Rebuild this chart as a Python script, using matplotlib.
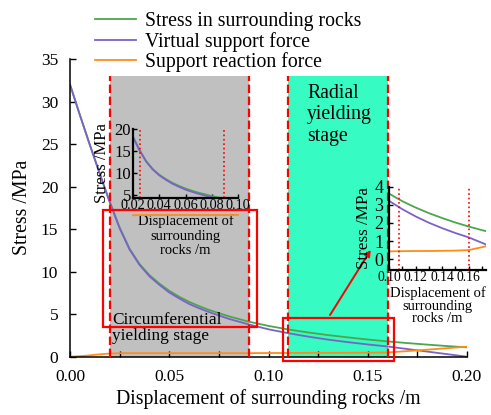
import numpy as np
import matplotlib
matplotlib.use("Agg")
import matplotlib.pyplot as plt
from matplotlib.patches import Rectangle
from matplotlib.ticker import MultipleLocator, FormatStrFormatter

plt.rcParams['font.family'] = ['Liberation Serif', 'DejaVu Serif']

# Displacement of surrounding rocks (m)
disp = [0.000, 0.005, 0.010, 0.015, 0.020, 0.025, 0.030, 0.035, 0.040, 0.045,
        0.050, 0.055, 0.060, 0.065, 0.070, 0.080, 0.090, 0.100, 0.110, 0.120,
        0.130, 0.140, 0.150, 0.160, 0.170, 0.180, 0.190, 0.200]
# Stress in surrounding rocks (MPa)
rock_stress = [32.0, 28.4, 24.9, 21.5, 18.2, 15.2, 12.7, 10.9, 9.6, 8.6,
               7.75, 7.05, 6.45, 5.95, 5.5, 4.75, 4.12, 3.62, 3.2, 2.85,
               2.54, 2.27, 2.02, 1.8, 1.6, 1.42, 1.25, 1.1]
# Virtual support force (MPa)
virtual_force = [32.0, 28.4, 24.9, 21.5, 18.2, 15.1, 12.6, 10.8, 9.45, 8.45,
                 7.55, 6.85, 6.2, 5.7, 5.25, 4.45, 3.8, 3.22, 2.76, 2.36,
                 2.01, 1.71, 1.44, 1.2, 0.9, 0.6, 0.3, 0.0]
# Support reaction force (MPa)
reaction_force = [0.0, 0.06, 0.16, 0.28, 0.37, 0.41, 0.42, 0.42, 0.42, 0.42,
                  0.42, 0.42, 0.42, 0.42, 0.42, 0.42, 0.42, 0.43, 0.44, 0.45,
                  0.45, 0.46, 0.47, 0.5, 0.66, 0.83, 1.0, 1.18]

series_names = ["Stress in surrounding rocks", "Virtual support force",
                "Support reaction force"]
series_colors = ["#4ca64c", "#7b63c6", "#ff8c1a"]

# Stage boundaries (m)
circ_stage = (0.020, 0.090)
radial_stage = (0.110, 0.160)
stage_top = 33.0
# Zoom windows (m, MPa)
zoom_box_1 = (0.0165, 0.0944, 3.46, 17.26)
zoom_box_2 = (0.1075, 0.1634, -0.55, 4.5)
# Inset marker lines (m)
inset1_marks = [0.0253, 0.0897]
inset2_marks = [0.1075, 0.1600]

x = np.array(disp)
series = [np.array(rock_stress), np.array(virtual_force), np.array(reaction_force)]

fig = plt.figure(figsize=(4.91, 4.15), dpi=100)
ax = fig.add_axes([70 / 491, 1 - 356.7 / 415, 397 / 491, 297.7 / 415])

# stage shading and boundaries
ax.fill_between(circ_stage, 0, stage_top, color="#c0c0c0", lw=0, zorder=0)
ax.fill_between(radial_stage, 0, stage_top, color="#36fbc3", lw=0, zorder=0)
red_dash = (0, (3.8, 1.6))
for xv in list(circ_stage) + list(radial_stage):
    ax.vlines(xv, 0, stage_top, colors="#ff0000", linestyles=red_dash, lw=1.6, zorder=3)

lines = []
for y, c, n in zip(series, series_colors, series_names):
    ln, = ax.plot(x, y, color=c, lw=1.3, label=n, zorder=2)
    lines.append(ln)

# zoom windows
for (x0, x1, y0, y1) in (zoom_box_1, zoom_box_2):
    ax.add_patch(Rectangle((x0, y0), x1 - x0, y1 - y0, fill=False,
                           ec="#ff0000", lw=1.6, clip_on=False, zorder=4))

ax.annotate("", xy=(0.1515, 12.55), xytext=(0.131, 4.9),
            arrowprops=dict(arrowstyle="-|>", color="#ff0000", lw=1.4,
                            mutation_scale=9, shrinkA=0, shrinkB=0), zorder=5)

ax.text(0.0212, 5.3, "Circumferential\nyielding stage", fontsize=12.4,
        ha="left", va="top", linespacing=1.05, zorder=5)
ax.text(0.1195, 32.1, "Radial\nyielding\nstage", fontsize=14.2,
        ha="left", va="top", linespacing=1.2, zorder=5)

ax.set_xlim(0, 0.20)
ax.set_ylim(0, 35)
ax.xaxis.set_major_locator(MultipleLocator(0.05))
ax.xaxis.set_minor_locator(MultipleLocator(0.025))
ax.xaxis.set_major_formatter(FormatStrFormatter("%.2f"))
ax.yaxis.set_major_locator(MultipleLocator(5))
ax.tick_params(axis="both", which="both", direction="in", labelsize=12.5,
               length=4, width=1.0, pad=8.5)
for s in ("top", "right"):
    ax.spines[s].set_visible(False)
for s in ("left", "bottom"):
    ax.spines[s].set_linewidth(1.1)
ax.set_xlabel("Displacement of surrounding rocks /m", fontsize=14.2, labelpad=3)
ax.set_ylabel("Stress /MPa", fontsize=14.2, labelpad=6)

fig.legend(handles=lines, loc="upper left", bbox_to_anchor=(95 / 491, 1 - 12 / 415),
           frameon=False, fontsize=14.2, handlelength=2.1, handletextpad=0.45,
           labelspacing=0.04, borderpad=0, borderaxespad=0)


def style_inset(a, ylab_size, xtick_size, ytick_size, xlab_spacing, ylab_pad, ytick_pad):
    a.patch.set_alpha(0)
    for s in ("top", "right"):
        a.spines[s].set_visible(False)
    for s in ("left", "bottom"):
        a.spines[s].set_linewidth(1.6)
    a.tick_params(axis="both", which="both", direction="in", length=3, width=1.0, pad=1)
    a.tick_params(axis="x", labelsize=xtick_size)
    a.tick_params(axis="y", labelsize=ytick_size, pad=ytick_pad)
    a.set_ylabel("Stress /MPa", fontsize=ylab_size, labelpad=ylab_pad)
    a.set_xlabel("Displacement of\nsurrounding\nrocks /m", fontsize=10.5,
                 linespacing=xlab_spacing, labelpad=1.5)


# inset: circumferential yielding stage
ax1 = fig.add_axes([133 / 491, 1 - 198 / 415, 105 / 491, 69 / 415])
m1 = (x >= 0.02 - 1e-9) & (x <= 0.10 + 1e-9)
for y, c in zip(series, series_colors):
    ax1.plot(x[m1], y[m1], color=c, lw=1.3, clip_on=(c != series_colors[2]))
for xv in inset1_marks:
    ax1.axvline(xv, color="#ff0000", ls=":", lw=1.2)
ax1.set_xlim(0.02, 0.10)
ax1.set_ylim(4.3, 20)
ax1.xaxis.set_major_locator(MultipleLocator(0.02))
ax1.xaxis.set_major_formatter(FormatStrFormatter("%.2f"))
ax1.yaxis.set_major_locator(MultipleLocator(5))
style_inset(ax1, 12, 10.3, 12, 1.15, 3, 1.5)

# inset: radial yielding stage
ax2 = fig.add_axes([389 / 491, 1 - 270 / 415, 97 / 491, 83.3 / 415])
m2 = (x >= 0.10 - 1e-9) & (x <= 0.18 + 1e-9)
for y, c in zip(series, series_colors):
    ax2.plot(x[m2], y[m2], color=c, lw=1.3)
for xv in inset2_marks:
    ax2.axvline(xv, color="#ff0000", ls=":", lw=1.2)
ax2.set_xlim(0.10, 0.173)
ax2.set_ylim(-0.6, 4)
ax2.xaxis.set_major_locator(MultipleLocator(0.02))
ax2.xaxis.set_minor_locator(MultipleLocator(0.01))
ax2.xaxis.set_major_formatter(FormatStrFormatter("%.2f"))
ax2.yaxis.set_major_locator(MultipleLocator(1))
style_inset(ax2, 12.3, 9.8, 13, 0.95, 2, 4)

fig.savefig("out.png", dpi=100)
